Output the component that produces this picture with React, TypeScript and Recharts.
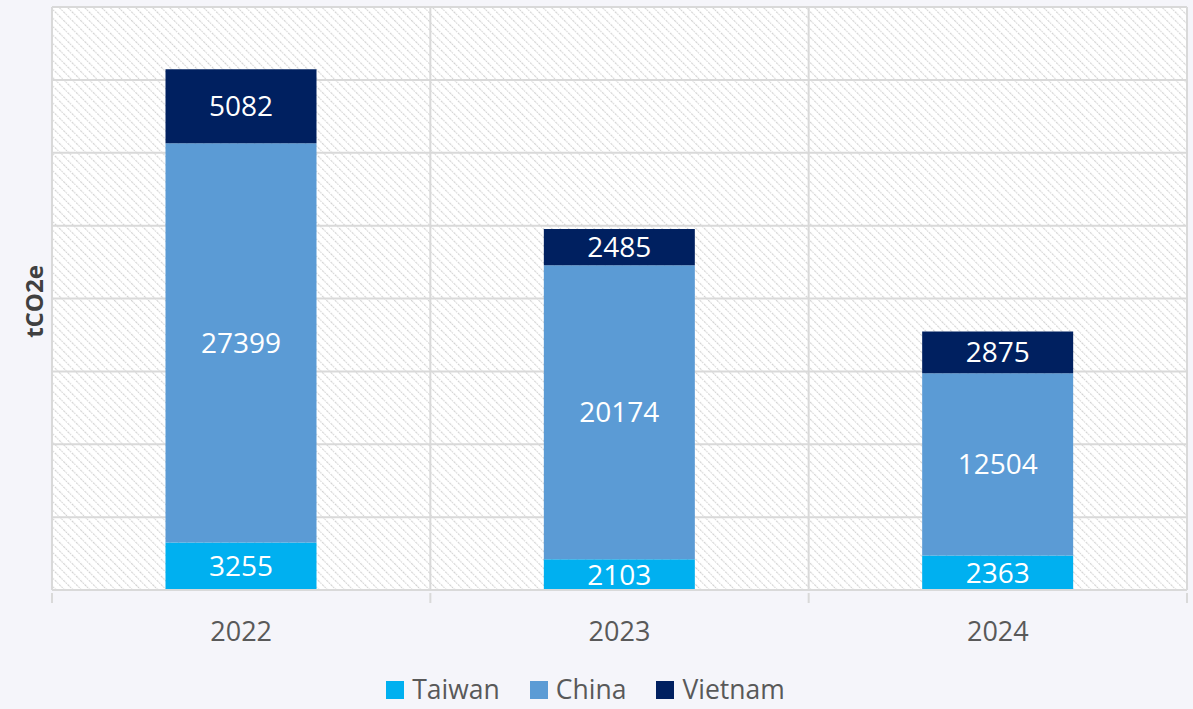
import {
  Bar,
  BarChart,
  CartesianGrid,
  LabelList,
  Legend,
  XAxis,
  YAxis,
} from "recharts";

const YEARS = ["2022", "2023", "2024"];
const TAIWAN = [3255, 2103, 2363];
const CHINA = [27399, 20174, 12504];
const VIETNAM = [5082, 2485, 2875];
const Y_TICKS = [0, 5000, 10000, 15000, 20000, 25000, 30000, 35000, 40000];

const SERIES = [
  { key: "taiwan", name: "Taiwan", color: "#00b0f0" },
  { key: "china", name: "China", color: "#5b9bd5" },
  { key: "vietnam", name: "Vietnam", color: "#002060" },
];

const rows = YEARS.map((year, i) => ({
  year,
  taiwan: TAIWAN[i],
  china: CHINA[i],
  vietnam: VIETNAM[i],
}));

const FONT = "'Open Sans', 'Noto Sans', sans-serif";
const GRID = "#d9d9d9";
const TICK_MARGIN = 26;

const NoTick = () => <g />;

// category boundaries (Excel draws the vertical grid between categories)
const boundaryLines = ({ offset }: any) =>
  YEARS.map((_, i) => offset.left + (offset.width * i) / YEARS.length).concat(
    offset.left + offset.width
  );

function YearTick(props: any) {
  const { x, y, payload, width, visibleTicksCount, index } = props;
  const half = width / (2 * visibleTicksCount);
  const top = y - TICK_MARGIN - 3;
  const marks = [x - half];
  if (index === visibleTicksCount - 1) marks.push(x + half);
  return (
    <g>
      {marks.map((mx, i) => (
        <line key={i} x1={mx} x2={mx} y1={top} y2={top + 10} stroke={GRID} strokeWidth={2} />
      ))}
      <text
        x={x}
        y={y}
        dy="0.71em"
        textAnchor="middle"
        fill="#595959"
        fontSize={27}
        fontFamily={FONT}
      >
        {payload.value}
      </text>
    </g>
  );
}

function LegendRow() {
  return (
    <div
      style={{
        display: "flex",
        justifyContent: "center",
        gap: 30,
        height: 40,
        paddingTop: 3,
        boxSizing: "border-box",
        fontFamily: FONT,
        fontSize: 26.5,
        color: "#595959",
        marginLeft: -16,
      }}
    >
      {SERIES.map((s) => (
        <div key={s.key} style={{ display: "flex", alignItems: "center", gap: 8, height: 35 }}>
          <span style={{ width: 18, height: 18, background: s.color, display: "inline-block" }} />
          <span style={{ lineHeight: "35px" }}>{s.name}</span>
        </div>
      ))}
    </div>
  );
}

export default function App() {
  return (
    <div
      style={{
        position: "absolute",
        left: 0,
        top: 0,
        width: 1193,
        height: 709,
        overflow: "hidden",
        background: "#f5f5fa",
      }}
    >
      <BarChart
        width={1193}
        height={709}
        data={rows}
        margin={{ top: 7, right: 6, left: 0, bottom: 0 }}
        barCategoryGap="30%"
      >
        <defs>
          <pattern
            id="hatch"
            width="6"
            height="6"
            patternUnits="userSpaceOnUse"
            patternTransform="rotate(-45)"
          >
            <rect width="6" height="6" fill="#ffffff" />
            <line x1="0" y1="0" x2="0" y2="6" stroke="#d2d2d2" strokeWidth="2.2" strokeDasharray="1.5 1" />
          </pattern>
        </defs>
        <CartesianGrid
          fill="url(#hatch)"
          stroke={GRID}
          strokeWidth={2}
          verticalCoordinatesGenerator={boundaryLines}
        />
        <XAxis
          dataKey="year"
          height={79}
          axisLine={{ stroke: GRID, strokeWidth: 2 }}
          tickLine={false}
          tickMargin={TICK_MARGIN}
          tick={YearTick}
        />
        <YAxis
          domain={[0, 40000]}
          ticks={Y_TICKS}
          width={52}
          tick={NoTick}
          axisLine={false}
          tickLine={false}
          label={{
            value: "tCO2e",
            angle: -90,
            position: "center",
            dx: 8,
            dy: 3,
            fill: "#404040",
            fontSize: 24,
            fontWeight: 700,
            fontFamily: FONT,
          }}
        />
        <Legend verticalAlign="bottom" height={40} content={() => <LegendRow />} />
        {SERIES.map((s) => (
          <Bar
            key={s.key}
            dataKey={s.key}
            name={s.name}
            stackId="total"
            fill={s.color}
            isAnimationActive={false}
          >
            <LabelList
              dataKey={s.key}
              position="center"
              fill="#ffffff"
              fontSize={28}
              fontFamily={FONT}
            />
          </Bar>
        ))}
      </BarChart>
    </div>
  );
}
